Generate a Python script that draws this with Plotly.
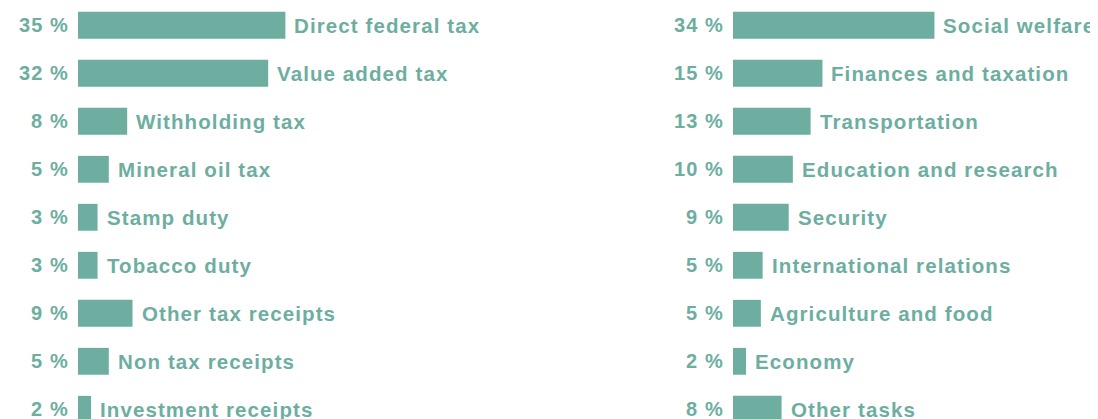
import plotly.graph_objects as go

# Receipts (left) and expenditure (right), share in percent
receipt_names = ['Direct federal tax', 'Value added tax', 'Withholding tax', 'Mineral oil tax',
                 'Stamp duty', 'Tobacco duty', 'Other tax receipts', 'Non tax receipts',
                 'Investment receipts']
receipt_values = [35.0, 32.1, 8.3, 5.2, 3.3, 3.3, 9.2, 5.2, 2.2]

spending_names = ['Social welfare', 'Finances and taxation', 'Transportation',
                  'Education and research', 'Security', 'International relations',
                  'Agriculture and food', 'Economy', 'Other tasks']
spending_values = [34.0, 15.1, 13.1, 10.1, 9.4, 5.0, 4.7, 2.2, 8.2]

COLOR = '#6DAEA1'
FONT = 'Liberation Sans, Arial, sans-serif'
W, H = 1098, 419
PAGE_PAD = 8  # default body margin of the html page


def spaced(txt, sp=1.1):
    return f'<span style="letter-spacing:{sp}px"><b>' + txt + '</b></span>'


fig = go.Figure()

panels = [
    (receipt_names, receipt_values, 'x', 'y'),
    (spending_names, spending_values, 'x2', 'y2'),
]

annotations = []
for names, values, xa, ya in panels:
    fig.add_trace(go.Bar(
        x=values, y=names, orientation='h',
        marker_color=COLOR, marker_line_width=0,
        xaxis=xa, yaxis=ya, hoverinfo='skip'
    ))
    for name, val in zip(names, values):
        # percent label left of the bar
        annotations.append(dict(
            x=0, y=name, xref=xa, yref=ya, text=spaced(f"{val:.0f} %"),
            showarrow=False, xanchor='right', yanchor='middle', xshift=-9,
            borderpad=0, borderwidth=0, font=dict(size=20, color=COLOR, family=FONT)
        ))
        # category label right of the bar
        annotations.append(dict(
            x=val, y=name, xref=xa, yref=ya, text=spaced(name),
            showarrow=False, xanchor='left', yanchor='middle', xshift=9,
            borderpad=0, borderwidth=0, font=dict(size=20.5, color=COLOR, family=FONT)
        ))

left0 = (78 - PAGE_PAD) / W
right0 = (733 - PAGE_PAD) / W
span = 237 / W
row = 48.0
top = -(25.3 - PAGE_PAD) / row
bottom = top + H / row

axis_common = dict(showgrid=False, zeroline=False, showticklabels=False,
                   showline=False, ticks='', range=[0, 40], fixedrange=True)
fig.update_layout(
    width=W, height=H,
    margin=dict(l=0, r=0, t=0, b=0),
    paper_bgcolor='white', plot_bgcolor='white',
    showlegend=False,
    bargap=0.44,
    xaxis=dict(domain=[left0, left0 + span], **axis_common),
    xaxis2=dict(domain=[right0, right0 + span], **axis_common),
    yaxis=dict(categoryorder='array', categoryarray=receipt_names,
               range=[bottom, top], showticklabels=False, showgrid=False,
               zeroline=False, domain=[0, 1]),
    yaxis2=dict(categoryorder='array', categoryarray=spending_names,
                range=[bottom, top], showticklabels=False, showgrid=False,
                zeroline=False, anchor='x2', domain=[0, 1]),
    annotations=annotations,
    font=dict(family=FONT),
)

fig.write_html("out.html", config={'displayModeBar': False})
